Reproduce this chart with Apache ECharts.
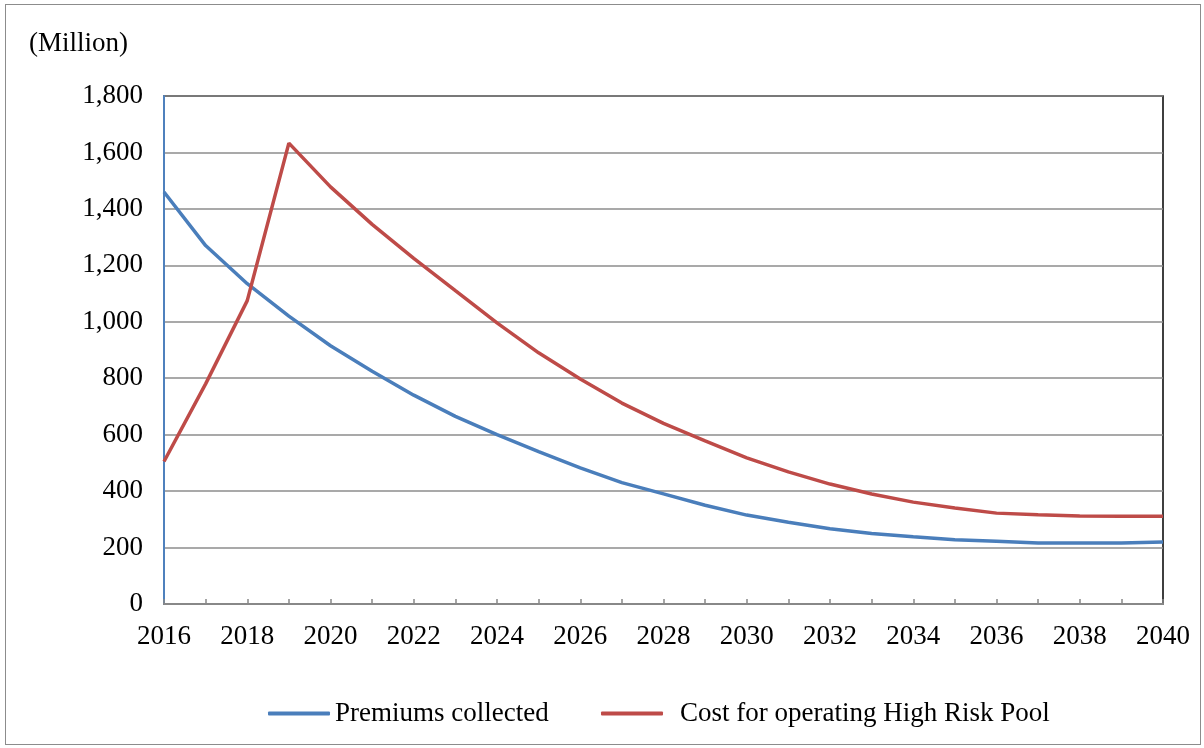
<!DOCTYPE html>
<html>
<head>
<meta charset="utf-8">
<script src="https://cdn.jsdelivr.net/npm/echarts@6/dist/echarts.min.js"></script>
<style>
html,body{margin:0;padding:0;background:#fff;}
#frame{position:absolute;left:5px;top:4px;width:1196px;height:741px;border:1.5px solid #8c8c8c;box-sizing:border-box;}
#chart{position:absolute;left:0;top:0;width:1204px;height:748px;}
</style>
</head>
<body>
<div id="frame"></div>
<div id="chart"></div>
<script>
const years = ['2016','2017','2018','2019','2020','2021','2022','2023','2024','2025','2026','2027','2028','2029','2030','2031','2032','2033','2034','2035','2036','2037','2038','2039','2040'];
const premiums = [1460,1270,1135,1020,915,825,740,665,600,540,482,430,390,350,315,290,267,250,238,228,222,216,216,216,220];
const poolCost = [505,780,1075,1633,1478,1345,1225,1110,996,890,797,712,640,578,518,468,425,390,361,340,322,316,312,311,311];
const seriesNames = ['Premiums collected','Cost for operating High Risk Pool'];
const yTicks = {min:0, max:1800, interval:200};

const font = 'Liberation Serif';
const fs = 27;
const chart = echarts.init(document.getElementById('chart'));
chart.setOption({
  animation:false,
  textStyle:{fontFamily:font},
  graphic:[{type:'text', left:29, top:30, style:{text:'(Million)', font:fs+'px "Liberation Serif"', fill:'#000'}}],
  grid:{left:164, right:41, top:96, bottom:144, show:true, borderColor:'#000', borderWidth:1.5, backgroundColor:'#fff'},
  legend:[
    {data:[seriesNames[0]], left:263, top:695, itemWidth:62, itemHeight:4, icon:'roundRect', itemGap:0,
     textStyle:{fontFamily:font, fontSize:fs, color:'#000', padding:[0,0,0,0]}},
    {data:[seriesNames[1]], left:596, top:695, itemWidth:62, itemHeight:4, icon:'roundRect',
     textStyle:{fontFamily:font, fontSize:fs, color:'#000', padding:[0,0,0,12]}}
  ],
  xAxis:{
    type:'category', data:years, boundaryGap:false,
    axisLine:{lineStyle:{color:'#888', width:2}},
    axisTick:{inside:true, length:5, interval:0, lineStyle:{color:'#888', width:1.5}},
    axisLabel:{interval:1, color:'#000', fontFamily:font, fontSize:fs, margin:19},
    splitLine:{show:false}
  },
  yAxis:{
    type:'value', min:yTicks.min, max:yTicks.max, interval:yTicks.interval,
    axisLine:{show:true, lineStyle:{color:'#4F81BD', width:2}},
    axisTick:{show:false},
    axisLabel:{color:'#000', fontFamily:font, fontSize:fs, margin:21,
      formatter:v=>v.toLocaleString('en-US')},
    splitLine:{lineStyle:{color:'#8c8c8c', width:1.5}}
  },
  series:[
    {name:seriesNames[0], type:'line', data:premiums, symbol:'none', smooth:false,
     lineStyle:{color:'#4A7EBB', width:3.5}, itemStyle:{color:'#4A7EBB'}},
    {name:seriesNames[1], type:'line', data:poolCost, symbol:'none', smooth:false,
     lineStyle:{color:'#BE4B48', width:3.5}, itemStyle:{color:'#BE4B48'}}
  ]
});
</script>
</body>
</html>
